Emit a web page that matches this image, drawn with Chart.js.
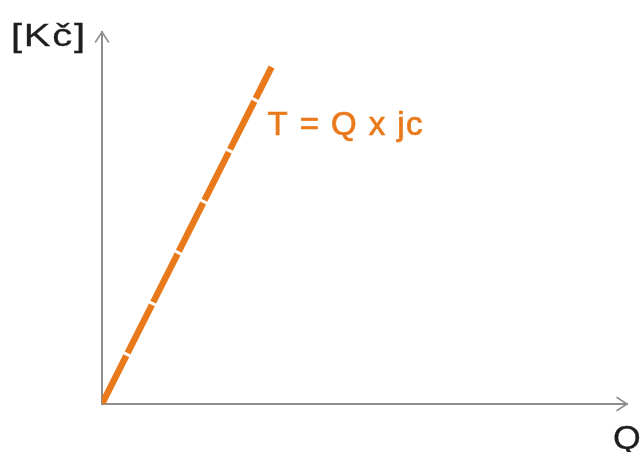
<!DOCTYPE html>
<html>
<head>
<meta charset="utf-8">
<script src="https://cdn.jsdelivr.net/npm/chart.js@4"></script>
<style>
html,body{margin:0;padding:0;background:#fff;}
#wrap{width:640px;height:452px;position:relative;}
</style>
</head>
<body>
<div id="wrap"><canvas id="c" width="640" height="452"></canvas></div>
<script>
// Data (quantity Q vs total revenue T = Q x jc)
const quantities = [0, 32.3];
const revenues = [0, 90.6];
const seriesLabel = 'T = Q x jc';
const yAxisLabel = '[Kč]';
const xAxisLabel = 'Q';

const ORANGE = '#E97A1C';
const AXIS = '#8E8E8E';

const points = quantities.map((q, i) => ({x: q, y: revenues[i]}));

function fitText(ctx, text, left, baseline, font, color, targetWidth, sx, sw) {
  ctx.save();
  ctx.font = font;
  ctx.fillStyle = color;
  ctx.strokeStyle = color;
  ctx.lineWidth = sw;
  ctx.textBaseline = 'alphabetic';
  ctx.textAlign = 'left';
  sx = sx || 1;
  const w = ctx.measureText(text).width * sx;
  const n = Array.from(text).length - 1;
  ctx.translate(left, baseline);
  ctx.scale(sx, 1);
  if (targetWidth && n > 0 && 'letterSpacing' in ctx) {
    ctx.letterSpacing = Math.max(0, (targetWidth - w) / n / sx) + 'px';
  }
  ctx.fillText(text, 0, 0);
  if (sw > 0) ctx.strokeText(text, 0, 0);
  ctx.restore();
}

const decor = {
  id: 'decor',
  afterDraw(chart) {
    const ctx = chart.ctx;
    const a = chart.chartArea;
    const xs = chart.scales.x, ys = chart.scales.y;
    const ox = xs.getPixelForValue(0), oy = ys.getPixelForValue(0);
    ctx.save();
    ctx.strokeStyle = AXIS;
    ctx.lineWidth = 1.6;
    ctx.lineCap = 'round';
    const ty = a.top;
    ctx.beginPath();
    ctx.moveTo(ox - 6.5, ty + 10);
    ctx.lineTo(ox, ty);
    ctx.lineTo(ox + 6.5, ty + 10);
    ctx.stroke();
    const tx = a.right;
    ctx.beginPath();
    ctx.moveTo(tx - 10, oy - 6.5);
    ctx.lineTo(tx, oy);
    ctx.lineTo(tx - 10, oy + 6.5);
    ctx.stroke();
    ctx.restore();
    const lastX = xs.getPixelForValue(quantities[quantities.length - 1]);
    const lastY = ys.getPixelForValue(revenues[revenues.length - 1]);
    fitText(ctx, seriesLabel, lastX - 4, lastY + 68, '33px "Liberation Sans", Arial, sans-serif', ORANGE, 155, 1, 0.7);
    fitText(ctx, yAxisLabel, 11, 46, '32px "Liberation Sans", Arial, sans-serif', '#1E1E1E', 74, 1.25, 0.3);
    fitText(ctx, xAxisLabel, 613, 449, '34px "Liberation Sans", Arial, sans-serif', '#1E1E1E', 0, 1.05, 0.3);
  }
};

new Chart(document.getElementById('c'), {
  type: 'scatter',
  data: {
    datasets: [{
      label: seriesLabel,
      data: points,
      showLine: true,
      borderColor: ORANGE,
      backgroundColor: ORANGE,
      borderWidth: 6.5,
      borderDash: [54, 3],
      borderCapStyle: 'butt',
      pointRadius: 0,
      tension: 0
    }]
  },
  options: {
    responsive: false,
    animation: false,
    layout: {padding: {left: 102, top: 32, right: 13, bottom: 48}},
    plugins: {legend: {display: false}, tooltip: {enabled: false}},
    scales: {
      x: {
        type: 'linear', min: 0, max: 100,
        grid: {display: false, drawTicks: false},
        ticks: {display: false},
        border: {display: true, color: AXIS, width: 2}
      },
      y: {
        type: 'linear', min: 0, max: 100,
        grid: {display: false, drawTicks: false},
        ticks: {display: false},
        border: {display: true, color: AXIS, width: 2}
      }
    }
  },
  plugins: [decor]
});
</script>
</body>
</html>
